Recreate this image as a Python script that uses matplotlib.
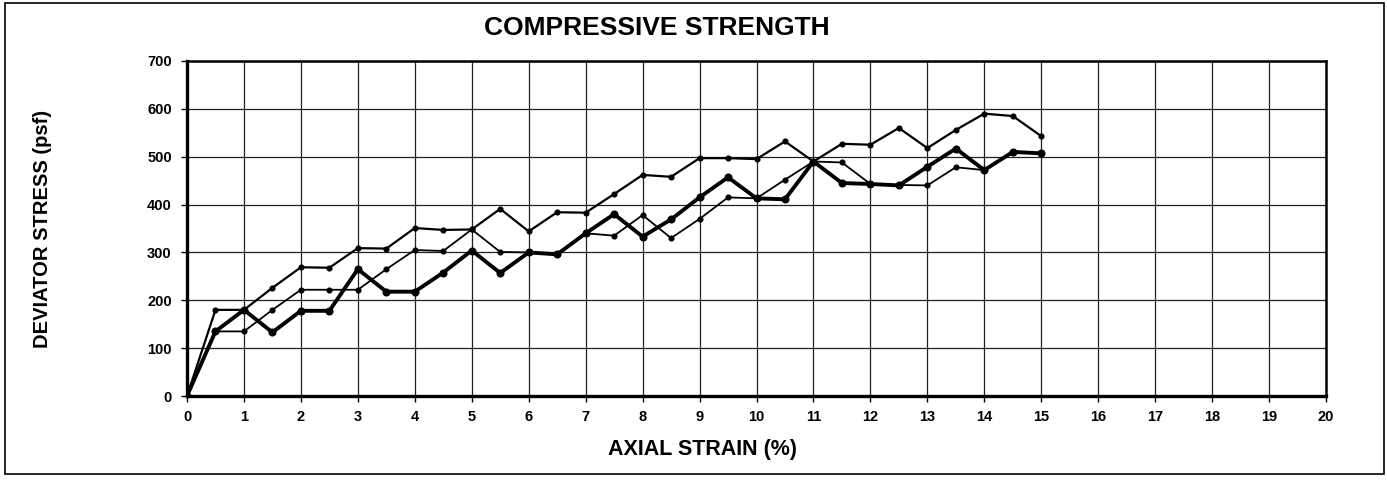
import matplotlib
matplotlib.use('Agg')
import matplotlib.pyplot as plt
from matplotlib.patches import Rectangle

plt.rcParams['font.family'] = ['Liberation Sans', 'DejaVu Sans']
plt.rcParams['font.weight'] = 'bold'

# axial strain (%) at each reading
strain = [0, 0.5, 1, 1.5, 2, 2.5, 3, 3.5, 4, 4.5, 5, 5.5, 6, 6.5, 7, 7.5,
          8, 8.5, 9, 9.5, 10, 10.5, 11, 11.5, 12, 12.5, 13, 13.5, 14, 14.5, 15]

# deviator stress (psf), three specimens
stress_a = [0, 180, 180, 226, 269, 268, 309, 308, 351, 347, 348, 391, 344, 384, 383, 422,
            462, 458, 497, 497, 495, 532, 490, 527, 525, 560, 518, 556, 590, 585, 543]
stress_b = [0, 135, 180, 133, 178, 178, 265, 218, 218, 258, 304, 257, 300, 296, 340, 380,
            333, 369, 415, 457, 413, 411, 490, 445, 443, 440, 479, 517, 472, 510, 507]
stress_c = [0, 135, 135, 180, 222, 222, 222, 265, 305, 303, 348, 301, 300, 296, 340, 335,
            378, 330, 370, 415, 413, 452, 490, 488, 443, 441, 440, 478, 472, 510, 507]

x_ticks = list(range(0, 21))
y_ticks = list(range(0, 701, 100))

fig = plt.figure(figsize=(13.87, 4.8), dpi=100)
ax = fig.add_axes([187 / 1387, 1 - 396 / 480, (1326 - 187) / 1387, (396 - 61) / 480])

# grid first so the curves sit on top
ax.set_xticks(x_ticks)
ax.set_yticks(y_ticks)
ax.grid(True, color='#222222', linewidth=0.9)
ax.set_axisbelow(True)

ax.plot(strain, stress_a, color='black', linewidth=1.6, marker='o', markersize=3.4)
ax.plot(strain, stress_c, color='black', linewidth=1.3, marker='o', markersize=3.4)
ax.plot(strain, stress_b, color='black', linewidth=2.8, marker='o', markersize=4.8)

ax.set_xlim(0, 20)
ax.set_ylim(0, 700)

for side in ['left', 'bottom']:
    ax.spines[side].set_linewidth(2.4)
for side in ['top', 'right']:
    ax.spines[side].set_linewidth(1.8)

ax.tick_params(axis='both', direction='out', length=4, width=1, labelsize=10.5, colors='black')
ax.tick_params(axis='y', pad=7)
ax.tick_params(axis='x', pad=6)
for lbl in ax.get_xticklabels() + ax.get_yticklabels():
    lbl.set_fontweight('bold')

fig.text(657 / 1387, 1 - 28 / 480, 'COMPRESSIVE STRENGTH', ha='center', va='center',
         fontsize=19, fontweight='bold')
fig.text(702 / 1387, 1 - 450 / 480, 'AXIAL STRAIN (%)', ha='center', va='center',
         fontsize=15.5, fontweight='bold')
fig.text(43 / 1387, 1 - 229 / 480, 'DEVIATOR STRESS (psf)', ha='center', va='center',
         rotation=90, fontsize=14.5, fontweight='bold')

# outer frame around the whole chart
fig.patches.append(Rectangle((5 / 1387, 1 - 474 / 480), 1379 / 1387, 471 / 480,
                             transform=fig.transFigure, fill=False,
                             edgecolor='black', linewidth=1.2))

fig.savefig('out.png', dpi=100)
